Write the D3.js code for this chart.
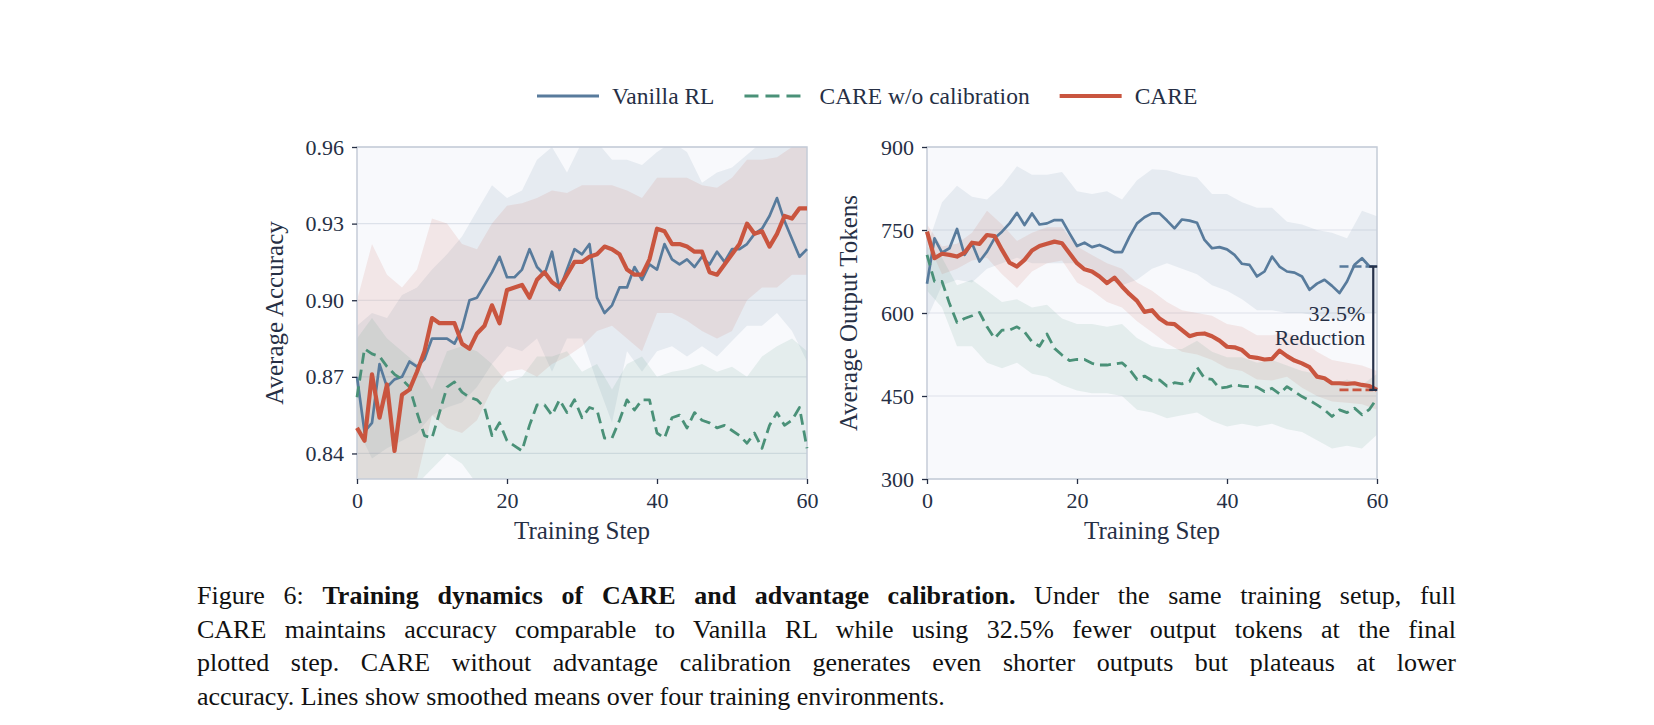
<!DOCTYPE html>
<html>
<head>
<meta charset="utf-8">
<script src="https://cdn.jsdelivr.net/npm/d3@7"></script>
<style>
  body { margin: 0; background: #fff; }
  svg text { font-family: "Liberation Serif", "DejaVu Serif", serif; }
</style>
</head>
<body>
<svg id="fig" width="1654" height="725"></svg>
<script>
// training steps (x) and the steps where the shaded bands were read
var steps = d3.range(0, 61);
var bandSteps = d3.range(0, 61, 2);

// left panel: average accuracy
var accVanilla = [0.870,0.8485,0.852,0.875,0.866,0.869,0.870,0.876,0.874,0.877,
  0.885,0.885,0.885,0.883,0.889,0.900,0.901,0.906,0.911,0.917,
  0.909,0.909,0.912,0.920,0.913,0.910,0.919,0.904,0.912,0.920,
  0.918,0.922,0.901,0.895,0.898,0.905,0.905,0.913,0.908,0.914,
  0.912,0.922,0.916,0.914,0.916,0.913,0.917,0.914,0.919,0.915,
  0.920,0.920,0.922,0.926,0.928,0.933,0.940,0.931,0.924,0.917,0.920];
var accNoCal = [0.862,0.881,0.879,0.878,0.874,0.871,0.869,0.866,0.856,0.847,
  0.846,0.856,0.866,0.868,0.864,0.862,0.861,0.858,0.847,0.852,
  0.845,0.843,0.841,0.851,0.859,0.859,0.855,0.861,0.856,0.861,
  0.854,0.858,0.857,0.846,0.846,0.853,0.861,0.857,0.861,0.861,
  0.848,0.846,0.854,0.855,0.850,0.856,0.853,0.852,0.850,0.851,
  0.849,0.847,0.844,0.848,0.842,0.851,0.856,0.851,0.853,0.858,0.842];
var accCare = [0.850,0.845,0.871,0.854,0.867,0.841,0.863,0.865,0.872,0.880,
  0.893,0.891,0.891,0.891,0.883,0.881,0.887,0.890,0.898,0.891,
  0.904,0.905,0.906,0.901,0.908,0.911,0.907,0.905,0.910,0.915,
  0.915,0.917,0.918,0.921,0.920,0.918,0.912,0.910,0.910,0.916,
  0.928,0.927,0.922,0.922,0.921,0.919,0.919,0.911,0.910,0.914,
  0.918,0.922,0.930,0.926,0.927,0.921,0.926,0.933,0.932,0.936,0.936];

var accVanillaLo = [0.850,0.838,0.842,0.845,0.848,0.855,0.858,0.860,0.866,0.875,0.882,0.880,0.885,0.872,0.885,0.885,0.868,0.852,0.880,0.872,0.880,0.882,0.878,0.882,0.878,0.884,0.890,0.890,0.895,0.888,0.876];
var accVanillaHi = [0.890,0.895,0.893,0.902,0.905,0.912,0.918,0.925,0.935,0.945,0.940,0.943,0.955,0.960,0.950,0.962,0.962,0.955,0.955,0.953,0.958,0.962,0.958,0.946,0.950,0.952,0.957,0.962,0.965,0.962,0.962];
var accNoCalLo = [0.820,0.815,0.820,0.825,0.828,0.834,0.840,0.836,0.828,0.820,0.815,0.815,0.818,0.815,0.820,0.818,0.815,0.815,0.818,0.820,0.815,0.815,0.818,0.820,0.815,0.815,0.818,0.815,0.815,0.818,0.815];
var accNoCalHi = [0.885,0.893,0.885,0.880,0.875,0.865,0.880,0.882,0.880,0.875,0.868,0.870,0.878,0.878,0.880,0.872,0.875,0.865,0.875,0.878,0.870,0.872,0.873,0.875,0.872,0.874,0.870,0.878,0.882,0.885,0.880];
var accCareLo = [0.820,0.815,0.815,0.820,0.830,0.855,0.850,0.848,0.853,0.865,0.872,0.873,0.870,0.875,0.878,0.882,0.888,0.890,0.885,0.880,0.895,0.895,0.892,0.888,0.885,0.888,0.900,0.905,0.905,0.910,0.910];
var accCareHi = [0.900,0.922,0.910,0.905,0.912,0.932,0.930,0.922,0.920,0.930,0.937,0.938,0.940,0.943,0.942,0.945,0.945,0.945,0.943,0.940,0.948,0.948,0.948,0.945,0.944,0.948,0.955,0.955,0.956,0.960,0.962];

// right panel: average output tokens
var tokVanilla = [653,735,709,717,752,705,726,693,711,735,
  747,762,781,759,780,760,762,768,768,744,
  721,727,719,723,717,710,710,738,762,773,
  780,780,767,753,769,767,763,732,717,719,
  715,705,689,687,666,675,702,684,675,673,
  666,642,653,660,649,636,657,687,699,684,684];
var tokNoCal = [705,657,657,617,583,590,595,601,575,554,
  569,569,575,566,548,540,562,536,524,514,
  516,516,509,506,506,508,510,498,480,486,
  478,479,468,474,472,476,502,482,480,464,
  466,470,468,467,466,458,464,454,467,458,
  449,442,434,425,413,425,420,428,416,426,446];
var tokCare = [747,699,707,705,702,709,727,725,741,739,
  714,691,684,696,713,721,725,729,726,708,
  690,679,675,666,654,664,648,634,622,602,
  605,590,581,580,569,558,562,563,558,550,
  539,538,533,521,519,516,517,532,522,514,
  509,502,485,482,473,473,472,473,470,468,461];

var tokVanillaLo = [590,650,660,655,680,690,700,690,690,690,690,680,660,650,660,680,690,680,670,650,640,625,605,605,600,600,595,590,590,600,600];
var tokVanillaHi = [720,800,830,810,805,830,865,850,850,855,820,815,820,805,840,860,858,850,845,815,815,800,790,790,765,760,750,745,735,785,775];
var tokNoCalLo = [640,610,540,540,510,500,510,490,485,470,460,455,455,450,425,420,410,415,420,405,395,400,395,400,390,385,370,355,360,355,380];
var tokNoCalHi = [720,700,650,660,640,620,625,610,615,590,580,580,575,580,555,540,535,535,550,530,520,520,510,515,505,495,490,470,480,470,490];
var tokCareLo = [730,670,680,695,700,670,645,675,690,695,655,640,620,610,585,565,545,530,525,515,500,495,480,478,485,465,450,440,438,435,425];
var tokCareHi = [760,720,725,745,785,760,730,745,755,755,720,705,690,680,655,640,620,605,600,595,580,575,560,560,565,550,530,515,510,505,495];

var accTicks = [0.84, 0.87, 0.90, 0.93, 0.96];
var tokTicks = [300, 450, 600, 750, 900];
var xTicks = [0, 20, 40, 60];

var seriesNames = ["Vanilla RL", "CARE w/o calibration", "CARE"];
var seriesColors = ["#587b9c", "#4a9178", "#c9553f"];
var seriesWidths = [2.7, 2.8, 4.2];
var seriesDash = [null, "11,6", null];

var textColor = "#262f45";
var svg = d3.select("#fig");
var plotW = 450, plotH = 332, plotTop = 147;

var panels = [
  {left: 357, yDomain: [0.83, 0.96], ticks: accTicks, fmt: d3.format(".2f"), ylabel: "Average Accuracy", labelX: -74,
   means: [accVanilla, accNoCal, accCare], los: [accVanillaLo, accNoCalLo, accCareLo], his: [accVanillaHi, accNoCalHi, accCareHi]},
  {left: 927, yDomain: [300, 900], ticks: tokTicks, fmt: d3.format("d"), ylabel: "Average Output Tokens", labelX: -70,
   means: [tokVanilla, tokNoCal, tokCare], los: [tokVanillaLo, tokNoCalLo, tokCareLo], his: [tokVanillaHi, tokNoCalHi, tokCareHi]}
];

drawPanel = (p, idx) => {
  var g = svg.append("g").attr("transform", `translate(${p.left}, ${plotTop})`);
  var x = d3.scaleLinear().domain([0, 60]).range([0, plotW]);
  var y = d3.scaleLinear().domain(p.yDomain).range([plotH, 0]);

  g.append("rect").attr("width", plotW).attr("height", plotH).attr("fill", "#f8f9fc");
  g.append("clipPath").attr("id", "clip" + idx)
    .append("rect").attr("width", plotW).attr("height", plotH);

  // horizontal grid
  g.append("g").selectAll("line").data(p.ticks).join("line")
    .attr("x1", 0).attr("x2", plotW)
    .attr("y1", d => y(d)).attr("y2", d => y(d))
    .attr("stroke", "#dde2ea").attr("stroke-width", 1.2);

  // shaded bands
  var bands = g.append("g").attr("clip-path", `url(#clip${idx})`);
  var area = d3.area()
    .x((d, i) => x(bandSteps[i]))
    .y0(d => y(d[0]))
    .y1(d => y(d[1]));
  [0, 2, 1].forEach(k => {
    bands.append("path")
      .datum(d3.zip(p.los[k], p.his[k]))
      .attr("d", area)
      .attr("fill", seriesColors[k])
      .attr("fill-opacity", 0.11);
  });

  g.append("rect").attr("width", plotW).attr("height", plotH)
    .attr("fill", "none").attr("stroke", "#c5ccd7").attr("stroke-width", 1.5);

  // mean lines
  var line = d3.line().x((d, i) => x(steps[i])).y(d => y(d));
  p.means.forEach((m, k) => {
    g.append("path").datum(m)
      .attr("d", line)
      .attr("fill", "none")
      .attr("stroke", seriesColors[k])
      .attr("stroke-width", seriesWidths[k])
      .attr("stroke-dasharray", seriesDash[k])
      .attr("stroke-linejoin", "round");
  });

  var yAxis = g.append("g")
    .call(d3.axisLeft(y).tickValues(p.ticks).tickFormat(p.fmt).tickSize(5).tickPadding(8));
  var xAxis = g.append("g")
    .attr("transform", `translate(0, ${plotH})`)
    .call(d3.axisBottom(x).tickValues(xTicks).tickSize(5).tickPadding(8));
  [yAxis, xAxis].forEach(a => {
    a.select(".domain").remove();
    a.attr("font-family", "Liberation Serif").attr("font-size", 22);
    a.selectAll("line").attr("stroke", textColor).attr("stroke-width", 1.3);
    a.selectAll("text").attr("fill", textColor);
  });

  g.append("text")
    .attr("x", plotW / 2).attr("y", plotH + 60)
    .attr("text-anchor", "middle")
    .attr("fill", textColor).style("font-size", "25px")
    .text("Training Step");

  g.append("text")
    .attr("transform", `translate(${p.labelX}, ${plotH / 2}) rotate(-90)`)
    .attr("text-anchor", "middle")
    .attr("fill", textColor).style("font-size", "25px")
    .text(p.ylabel);

  if (idx == 1) {
    // reduction annotation between final Vanilla RL and CARE lengths
    var xa = x(59.5), ya = y(tokVanilla[60]), yb = y(tokCare[60]);
    g.append("line").attr("x1", x(55)).attr("x2", xa).attr("y1", ya).attr("y2", ya)
      .attr("stroke", seriesColors[0]).attr("stroke-width", 2.6).attr("stroke-dasharray", "9,4");
    g.append("line").attr("x1", x(55)).attr("x2", xa).attr("y1", yb).attr("y2", yb)
      .attr("stroke", seriesColors[2]).attr("stroke-width", 2.6).attr("stroke-dasharray", "9,4");
    g.append("line").attr("x1", xa).attr("x2", xa).attr("y1", ya).attr("y2", yb)
      .attr("stroke", "#28324a").attr("stroke-width", 2.2);
    [ya, yb].forEach(v => {
      g.append("line").attr("x1", xa - 4).attr("x2", xa + 4).attr("y1", v).attr("y2", v)
        .attr("stroke", "#28324a").attr("stroke-width", 2.2);
    });
    var mid = (ya + yb) / 2;
    g.append("text").attr("x", xa - 8).attr("y", mid - 7)
      .attr("text-anchor", "end").attr("fill", textColor).style("font-size", "22px")
      .text("32.5%");
    g.append("text").attr("x", xa - 8).attr("y", mid + 17)
      .attr("text-anchor", "end").attr("fill", textColor).style("font-size", "22px")
      .text("Reduction");
  }
}

panels.forEach((p, i) => drawPanel(p, i));

// legend
var legend = svg.append("g").attr("transform", "translate(537, 96)");
var lx = 0;
seriesNames.forEach((name, k) => {
  legend.append("line")
    .attr("x1", lx).attr("x2", lx + 62).attr("y1", 0).attr("y2", 0)
    .attr("stroke", seriesColors[k])
    .attr("stroke-width", k == 2 ? 4 : 3)
    .attr("stroke-dasharray", k == 1 ? "14,7" : null);
  var t = legend.append("text")
    .attr("x", lx + 75).attr("y", 8)
    .attr("fill", textColor).style("font-size", "23.5px")
    .text(name);
  lx += 75 + t.node().getComputedTextLength() + 30;
});

// caption, justified to the column width
var captionLines = [
  [["Figure 6: ", "normal"], ["Training dynamics of CARE and advantage calibration.", "bold"], [" Under the same training setup, full", "normal"]],
  [["CARE maintains accuracy comparable to Vanilla RL while using 32.5% fewer output tokens at the final", "normal"]],
  [["plotted step. CARE without advantage calibration generates even shorter outputs but plateaus at lower", "normal"]],
  [["accuracy. Lines show smoothed means over four training environments.", "normal"]]
];
var capLeft = 197, capWidth = 1259, capTop = 604, capStep = 33.5;

captionLines.forEach((parts, i) => {
  var t = svg.append("text")
    .attr("x", capLeft).attr("y", capTop + i * capStep)
    .attr("fill", "#111").style("font-size", "26px")
    .style("white-space", "pre");
  parts.forEach(pt => {
    t.append("tspan").attr("font-weight", pt[1]).text(pt[0]);
  });
  if (i < captionLines.length - 1) {
    var full = parts.map(pt => pt[0]).join("");
    var nSpaces = (full.match(/ /g) || []).length;
    var w = t.node().getComputedTextLength();
    t.attr("word-spacing", (capWidth - w) / nSpaces);
  }
});
</script>
</body>
</html>
